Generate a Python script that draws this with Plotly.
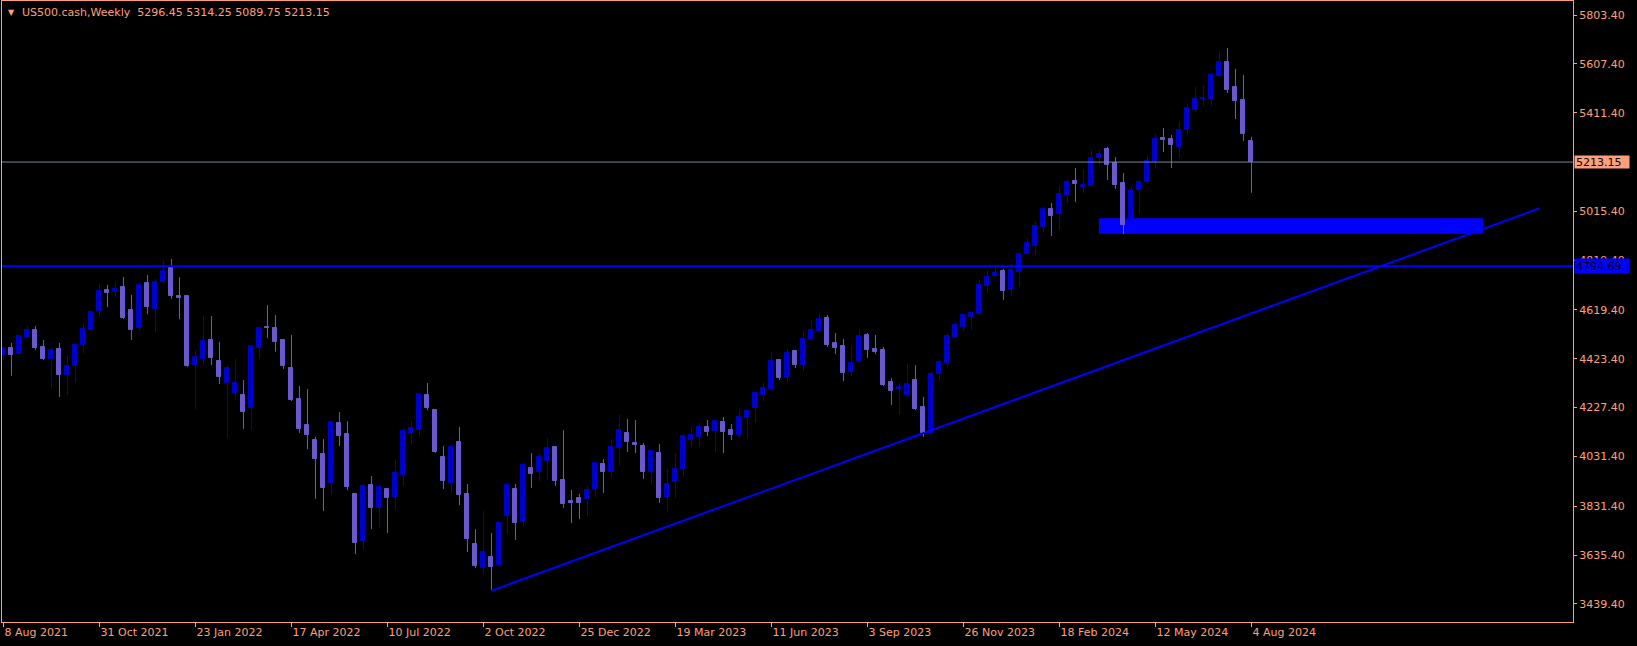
import pandas as pd
import plotly.graph_objects as go

# ---------------- data (weekly candles, starting week of 8 Aug 2021) ----------------
week_start = "2021-08-08"

opens = [4437, 4466, 4444, 4511, 4539, 4471, 4423, 4463, 4358, 4394,
         4479, 4539, 4616, 4700, 4692, 4712, 4619, 4547, 4728, 4623,
         4732, 4788, 4674, 4675, 4398, 4423, 4500, 4414, 4326, 4286,
         4278, 4227, 4468, 4551, 4547, 4499, 4386, 4262, 4158, 4098,
         4041, 3925, 4166, 4121, 3881, 3692, 3917, 3825, 3901, 3869,
         3957, 4126, 4138, 4278, 4218, 4029, 3925, 4089, 3881, 3680,
         3584, 3628, 3596, 3792, 3901, 3770, 3985, 3969, 4013, 4069,
         3937, 3853, 3865, 3861, 3901, 4001, 3969, 4065, 4125, 4085,
         4073, 3969, 4045, 3869, 3929, 3981, 4097, 4109, 4149, 4133,
         4170, 4137, 4117, 4186, 4226, 4278, 4302, 4419, 4346, 4455,
         4399, 4503, 4535, 4587, 4487, 4475, 4370, 4414, 4519, 4463,
         4459, 4330, 4304, 4278, 4338, 4230, 4125, 4362, 4406, 4511,
         4551, 4591, 4603, 4716, 4756, 4776, 4700, 4772, 4844, 4876,
         4952, 5025, 5005, 5081, 5137, 5113, 5117, 5229, 5265, 5209,
         5129, 4980, 5101, 5133, 5213, 5310, 5306, 5274, 5342, 5422,
         5466, 5466, 5559, 5615, 5514, 5462, 5296.45]

highs = [4470, 4487, 4518, 4555, 4555, 4499, 4471, 4487, 4435, 4483,
         4563, 4618, 4724, 4720, 4732, 4752, 4680, 4724, 4760, 4744,
         4816, 4824, 4750, 4679, 4459, 4595, 4595, 4491, 4398, 4422,
         4338, 4478, 4550, 4639, 4599, 4502, 4519, 4314, 4302, 4110,
         4101, 4172, 4210, 4173, 3884, 3921, 3953, 3921, 3905, 4017,
         4146, 4174, 4284, 4326, 4222, 4073, 4081, 4150, 3921, 3740,
         3812, 3724, 3766, 3919, 3921, 4005, 4045, 4045, 4105, 4073,
         4137, 3897, 3881, 3913, 4007, 4021, 4097, 4198, 4182, 4178,
         4085, 4055, 4081, 3981, 4045, 4115, 4145, 4166, 4178, 4178,
         4190, 4162, 4218, 4218, 4288, 4326, 4451, 4421, 4463, 4459,
         4531, 4579, 4607, 4599, 4527, 4503, 4475, 4543, 4527, 4519,
         4471, 4346, 4326, 4402, 4398, 4270, 4374, 4422, 4527, 4571,
         4603, 4611, 4740, 4780, 4792, 4784, 4804, 4846, 4908, 4976,
         5033, 5049, 5113, 5141, 5189, 5185, 5262, 5262, 5274, 5233,
         5169, 5117, 5141, 5241, 5326, 5350, 5322, 5374, 5446, 5514,
         5522, 5571, 5655, 5671, 5587, 5563, 5314.25]

lows = [4421, 4355, 4440, 4503, 4459, 4419, 4307, 4270, 4278, 4326,
        4447, 4531, 4595, 4631, 4675, 4583, 4499, 4535, 4603, 4531,
        4724, 4664, 4582, 4392, 4222, 4402, 4398, 4322, 4106, 4262,
        4142, 4138, 4422, 4507, 4452, 4383, 4254, 4126, 4061, 3861,
        3812, 3877, 4073, 3897, 3640, 3660, 3740, 3744, 3724, 3820,
        3913, 4081, 4111, 4218, 4046, 3901, 3885, 3836, 3648, 3584,
        3560, 3495, 3592, 3724, 3696, 3750, 3905, 3933, 3937, 3913,
        3825, 3764, 3780, 3792, 3869, 3885, 3949, 3993, 4049, 4045,
        3941, 3921, 3845, 3808, 3865, 3953, 4069, 4069, 4113, 4049,
        4045, 4097, 4105, 4101, 4166, 4254, 4298, 4338, 4326, 4386,
        4374, 4495, 4531, 4471, 4443, 4334, 4354, 4406, 4427, 4443,
        4314, 4238, 4198, 4270, 4218, 4110, 4110, 4338, 4390, 4503,
        4535, 4539, 4599, 4688, 4748, 4660, 4676, 4712, 4842, 4840,
        4930, 4916, 4940, 5049, 5053, 5089, 5113, 5201, 5141, 5105,
        4924, 4972, 5005, 5125, 5189, 5253, 5189, 5229, 5322, 5414,
        5438, 5438, 5551, 5490, 5386, 5298, 5089.75]

closes = [4468, 4438, 4515, 4539, 4467, 4423, 4459, 4358, 4394, 4479,
          4543, 4612, 4696, 4688, 4704, 4587, 4539, 4720, 4631, 4732,
          4776, 4676, 4668, 4394, 4430, 4495, 4425, 4350, 4386, 4326,
          4211, 4475, 4548, 4547, 4490, 4394, 4258, 4142, 4118, 4021,
          3905, 4170, 4114, 3909, 3684, 3913, 3825, 3909, 3865, 3965,
          4134, 4146, 4282, 4226, 4050, 3933, 4069, 3877, 3700, 3592,
          3648, 3588, 3764, 3917, 3764, 3997, 3961, 4029, 4065, 3933,
          3841, 3845, 3845, 3897, 4005, 3969, 4069, 4137, 4089, 4077,
          3969, 4053, 3865, 3921, 3981, 4113, 4117, 4149, 4129, 4174,
          4129, 4117, 4190, 4214, 4286, 4306, 4415, 4346, 4447, 4399,
          4503, 4539, 4583, 4479, 4467, 4366, 4406, 4515, 4459, 4451,
          4318, 4294, 4312, 4322, 4222, 4125, 4362, 4410, 4515, 4559,
          4599, 4607, 4720, 4752, 4768, 4696, 4780, 4844, 4888, 4956,
          5025, 4997, 5085, 5133, 5125, 5121, 5229, 5245, 5201, 5121,
          4960, 5101, 5133, 5217, 5306, 5302, 5282, 5342, 5430, 5466,
          5470, 5563, 5615, 5502, 5458, 5326, 5213.15]

symbol = "US500.cash"
timeframe = "Weekly"

x_tick_labels = ["8 Aug 2021", "31 Oct 2021", "23 Jan 2022", "17 Apr 2022",
                 "10 Jul 2022", "2 Oct 2022", "25 Dec 2022", "19 Mar 2023",
                 "11 Jun 2023", "3 Sep 2023", "26 Nov 2023", "18 Feb 2024",
                 "12 May 2024", "4 Aug 2024"]

y_tick_values = [5803.40, 5607.40, 5411.40, 5015.40, 4819.40, 4619.40,
                 4423.40, 4227.40, 4031.40, 3831.40, 3635.40, 3439.40]

support_level = 4794.69

zone_start, zone_end = "2024-03-23 12:00", "2025-02-22 12:00"
zone_low, zone_high = 4925.0, 4988.0

trend_start, trend_start_price = "2022-10-09", 3492.5
trend_end, trend_end_price = "2025-04-13", 5027.5

# ---------------- styling ----------------
BULL = "#0000CD"
BEAR = "#6A5ACD"
FG = "#FFA07A"
BLUE = "#0000FF"
FONT = "DejaVu Sans"

dates = pd.date_range(week_start, periods=len(opens), freq="7D")
x_tick_dates = pd.to_datetime(x_tick_labels, format="%d %b %Y")

fig = go.Figure()

for is_bull, color in ((True, BULL), (False, BEAR)):
    idx = [i for i in range(len(opens)) if (closes[i] >= opens[i]) == is_bull]
    # wicks
    wx, wy = [], []
    for i in idx:
        wx += [dates[i], dates[i], None]
        wy += [lows[i], highs[i], None]
    fig.add_trace(go.Scatter(x=wx, y=wy, mode="lines",
                             line=dict(color=color, width=1),
                             hoverinfo="skip", showlegend=False))
    # bodies
    fig.add_trace(go.Bar(
        x=[dates[i] for i in idx],
        base=[min(opens[i], closes[i]) for i in idx],
        y=[abs(closes[i] - opens[i]) for i in idx],
        width=3.5 * 86400000,
        marker=dict(color=color, line=dict(color=color, width=1)),
        hoverinfo="skip", showlegend=False))

x_range = [dates[0] - pd.Timedelta(hours=31), dates[0] + pd.Timedelta(days=196.19 * 7)]

shapes = [
    dict(type="rect", xref="x", yref="y", x0=zone_start, x1=zone_end,
         y0=zone_low, y1=zone_high, fillcolor=BLUE, line=dict(width=0),
         layer="below"),
    dict(type="line", xref="paper", yref="y", x0=0, x1=1,
         y0=support_level, y1=support_level, line=dict(color=BLUE, width=2)),
    dict(type="line", xref="paper", yref="y", x0=0, x1=1,
         y0=closes[-1], y1=closes[-1], line=dict(color="#778899", width=1)),
    dict(type="line", xref="x", yref="y", x0=trend_start, y0=trend_start_price,
         x1=trend_end, y1=trend_end_price, line=dict(color=BLUE, width=2)),
]

annotations = [
    dict(xref="paper", yref="paper", x=0, y=1, xanchor="left", yanchor="top",
         xshift=4, yshift=-5, text="▼", showarrow=False,
         font=dict(family=FONT, size=8, color=FG)),
    dict(xref="paper", yref="paper", x=0, y=1, xanchor="left", yanchor="top",
         xshift=18, yshift=-3,
         text=f"{symbol},{timeframe}&nbsp;&nbsp;{opens[-1]:.2f} {highs[-1]:.2f} {lows[-1]:.2f} {closes[-1]:.2f}",
         showarrow=False, font=dict(family=FONT, size=11, color=FG)),
    dict(xref="paper", yref="y", x=1, y=closes[-1], xanchor="left", yanchor="middle",
         xshift=1, text=f"{closes[-1]:.2f}", showarrow=False, bgcolor=FG,
         width=52, height=10, borderpad=1, align="left",
         font=dict(family=FONT, size=11, color="#000000")),
    dict(xref="paper", yref="y", x=1, y=support_level, xanchor="left", yanchor="middle",
         xshift=1, text=f"{support_level:.2f}", showarrow=False, bgcolor=BLUE,
         width=52, height=12, borderpad=1, align="left",
         font=dict(family=FONT, size=11, color="#000000")),
]

fig.update_layout(
    width=1637, height=646,
    margin=dict(l=2, r=64, t=1, b=24),
    paper_bgcolor="#000000", plot_bgcolor="#000000",
    barmode="overlay", bargap=0,
    showlegend=False,
    shapes=shapes, annotations=annotations,
    font=dict(family=FONT, size=11, color=FG),
    xaxis=dict(type="date", range=x_range, showgrid=False, zeroline=False,
               showline=True, linecolor=FG, linewidth=1, mirror=True,
               tickvals=x_tick_dates, ticktext=x_tick_labels,
               ticks="outside", ticklen=4, tickcolor=FG,
               ticklabelposition="outside right",
               tickfont=dict(family=FONT, size=11, color=FG),
               rangeslider=dict(visible=False), fixedrange=True),
    yaxis=dict(side="right", range=[3366.9, 5859.6], showgrid=False, zeroline=False,
               showline=True, linecolor=FG, linewidth=1, mirror=True,
               tickvals=y_tick_values, ticktext=[f"{v:.2f}" for v in y_tick_values],
               ticks="outside", ticklen=3, tickcolor=FG,
               tickfont=dict(family=FONT, size=11, color=FG), fixedrange=True),
)

fig.write_html(
    "out.html",
    config={"displayModeBar": False},
    post_script="document.body.style.margin='0';document.body.style.background='#000';",
)
